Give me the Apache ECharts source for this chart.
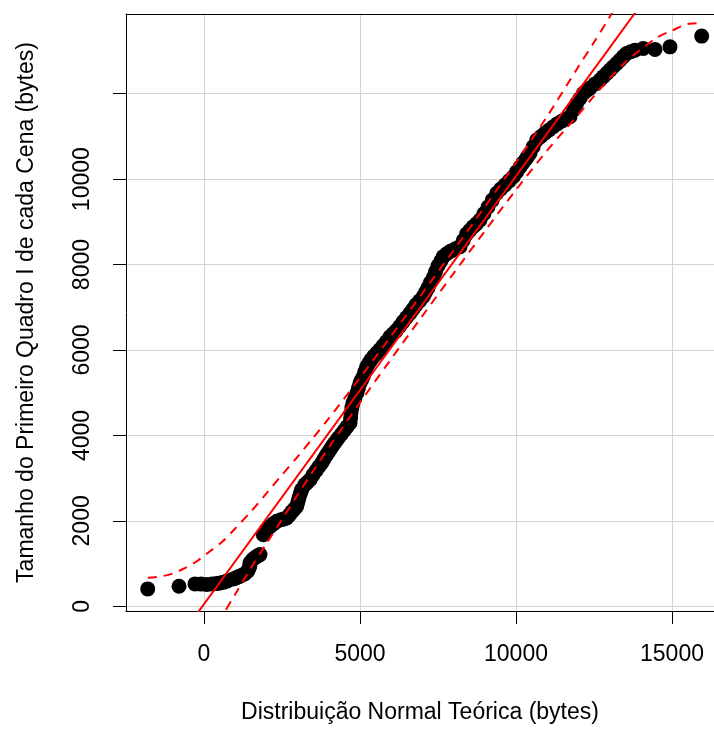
<!DOCTYPE html>
<html>
<head>
<meta charset="utf-8">
<style>
 html, body { margin: 0; padding: 0; background: #fff; }
 #chart { width: 714px; height: 729px; }
</style>
<script src="https://cdn.jsdelivr.net/npm/echarts@6/dist/echarts.min.js"></script>
</head>
<body>
<div id="chart"></div>
<script type="text/javascript">
	// pontos do qq-plot (quantil teorico, tamanho observado)
	var ptX = [-1804, -801, -288, -96, 87, 256, 400, 513, 630, 737, 939, 1030, 1122, 1220, 1314, 1400, 1442, 1470, 1474, 1550, 1635, 1720, 1795,
		1901, 1987, 2115, 2220, 2330, 2468, 2560, 2651, 2740, 2820, 2900, 2971, 3010, 3045, 3090, 3131, 3237, 3310, 3397, 3490, 3590, 3680, 3772,
		3840, 3910, 3975, 4038, 4100, 4167, 4235, 4304, 4400, 4487, 4580, 4679, 4700, 4711, 4740, 4775, 4840, 4904, 4950, 5000, 5050, 5106, 5160,
		5214, 5280, 5352, 5440, 5535, 5640, 5737, 5850, 5961, 6060, 6154, 6270, 6378, 6490, 6603, 6700, 6795, 6910, 7029, 7100, 7179, 7260, 7349,
		7420, 7500, 7590, 7670, 7790, 7916, 8060, 8205, 8310, 8419, 8520, 8631, 8740, 8846, 8970, 9102, 9240, 9381, 9510, 9647, 9780, 9913,
		10020, 10128, 10220, 10320, 10380, 10448, 10550, 10663, 10800, 10929, 11060, 11195, 11330, 11474, 11600, 11730, 11840, 11945, 12050, 12157,
		12260, 12371, 12530, 12692, 12800, 12916, 13020, 13118, 13230, 13333, 13440, 13548, 13680, 13814, 14080, 14455, 14935, 15951];
	var ptY = [407, 468, 524, 519, 508, 519, 530, 547, 565, 589, 641, 665, 695, 728, 765, 820, 882, 950, 1015, 1090, 1139, 1180, 1209,
		1677, 1771, 1864, 1930, 1988, 2028, 2045, 2068, 2140, 2215, 2280, 2339, 2440, 2542, 2640, 2730, 2847, 2900, 2963, 3070, 3174, 3265, 3354,
		3440, 3525, 3595, 3665, 3735, 3806, 3870, 3939, 4025, 4110, 4200, 4290, 4410, 4531, 4650, 4765, 4880, 4998, 5110, 5225, 5300, 5380, 5495,
		5607, 5690, 5770, 5850, 5927, 6010, 6098, 6200, 6308, 6380, 6449, 6550, 6659, 6760, 6863, 6960, 7057, 7150, 7251, 7350, 7454, 7580, 7700,
		7830, 7969, 8080, 8187, 8260, 8320, 8370, 8420, 8570, 8718, 8800, 8888, 8960, 9045, 9190, 9349, 9510, 9669, 9770, 9864, 9960, 10058,
		10170, 10285, 10380, 10472, 10540, 10605, 10760, 10916, 11000, 11080, 11150, 11227, 11300, 11361, 11410, 11461, 11620, 11775, 11890, 12009,
		12070, 12132, 12230, 12320, 12400, 12483, 12560, 12631, 12710, 12787, 12870, 12944, 12985, 13021, 13061, 13038, 13098, 13349];

	// reta de referencia
	var lineX = [-2500, 16500];
	var lineY = [-2455, 16583];

	// envelope de confianca (tracejado)
	var envX  = [-1800, -1400, -1000, -600, -200, 200, 600, 1000, 1500, 2000, 2500, 3000, 3500, 4000, 5000,
		6000, 7000, 8000, 9000, 10000, 11000, 12000, 12500, 13000, 13500, 14000, 14500, 15000, 15500, 15950];
	var envUp = [666, 697, 768, 899, 1070, 1294, 1521, 1822, 2213, 2642, 3078, 3501, 3947, 4398, 5350,
		6332, 7329, 8336, 9353, 10390, 11472, 12634, 13205, 13796, 14417, 15122, 15849, 16680, 17531, 18412];
	var envLo = [-4174, -3403, -2672, -2001, -1370, -794, -219, 282, 893, 1466, 2032, 2611, 3167, 3718, 4770,
		5792, 6799, 7796, 8783, 9750, 10672, 11514, 11945, 12356, 12737, 13034, 13309, 13480, 13631, 13652];

	// marcas dos eixos
	var xTicks = [0, 5000, 10000, 15000];
	var yTicks = [0, 2000, 4000, 6000, 8000, 10000, 12000];
	var yLabels = [0, 2000, 4000, 6000, 8000, 10000];

	function pares(xs, ys) {
		var out = [];
		for (var i = 0; i < xs.length; i++) out.push([xs[i], ys[i]]);
		return out;
	}
	function semSeparador(v) { return String(v); }

	var fonte = 'Liberation Sans, Arial, Helvetica, sans-serif';
	var grade = { show: true, lineStyle: { color: '#d3d3d3', width: 1 } };

	var options = {
		animation: false,
		backgroundColor: '#fff',
		grid: { left: 126, top: 14, right: 0, bottom: 118 },
		xAxis: [{
			type: 'value',
			min: -2500,
			max: 16346,
			name: 'Distribuição Normal Teórica (bytes)',
			nameLocation: 'middle',
			nameGap: 90,
			nameTextStyle: { fontFamily: fonte, fontSize: 23, color: '#000' },
			axisLine: { show: true, onZero: false, lineStyle: { color: '#000', width: 1 } },
			axisTick: { show: true, length: 13, customValues: xTicks, lineStyle: { color: '#000' } },
			axisLabel: { customValues: xTicks, formatter: semSeparador, margin: 32, fontFamily: fonte, fontSize: 23, color: '#000' },
			splitLine: grade
		}, {
			type: 'value',
			position: 'top',
			min: -2500,
			max: 16346,
			axisLine: { show: true, onZero: false, lineStyle: { color: '#000', width: 1 } },
			axisTick: { show: false },
			axisLabel: { show: false },
			splitLine: { show: false }
		}],
		yAxis: {
			type: 'value',
			min: -111,
			max: 13867,
			name: 'Tamanho do Primeiro Quadro I de cada Cena (bytes)',
			nameLocation: 'middle',
			nameRotate: 90,
			nameGap: 88,
			nameTextStyle: { fontFamily: fonte, fontSize: 23, color: '#000' },
			axisLine: { show: true, onZero: false, lineStyle: { color: '#000', width: 1 } },
			axisTick: { show: true, length: 13, customValues: yTicks, lineStyle: { color: '#000' } },
			axisLabel: { customValues: yLabels, formatter: semSeparador, rotate: 90, margin: 32, fontFamily: fonte, fontSize: 23, color: '#000' },
			splitLine: grade
		},
		series: [{
			name: 'observado',
			type: 'scatter',
			symbol: 'circle',
			symbolSize: 15,
			itemStyle: { color: '#000', opacity: 1 },
			data: pares(ptX, ptY)
		}, {
			name: 'reta',
			type: 'line',
			showSymbol: false,
			clip: true,
			lineStyle: { color: '#ff0000', width: 2 },
			data: pares(lineX, lineY)
		}, {
			name: 'superior',
			type: 'line',
			showSymbol: false,
			smooth: 0.3,
			clip: true,
			lineStyle: { color: '#ff0000', width: 2, type: [9, 7] },
			data: pares(envX, envUp)
		}, {
			name: 'inferior',
			type: 'line',
			showSymbol: false,
			smooth: 0.3,
			clip: true,
			lineStyle: { color: '#ff0000', width: 2, type: [9, 7] },
			data: pares(envX, envLo)
		}]
	};

	var myChart = echarts.init(document.getElementById('chart'));
	myChart.setOption(options);
</script>
</body>
</html>
